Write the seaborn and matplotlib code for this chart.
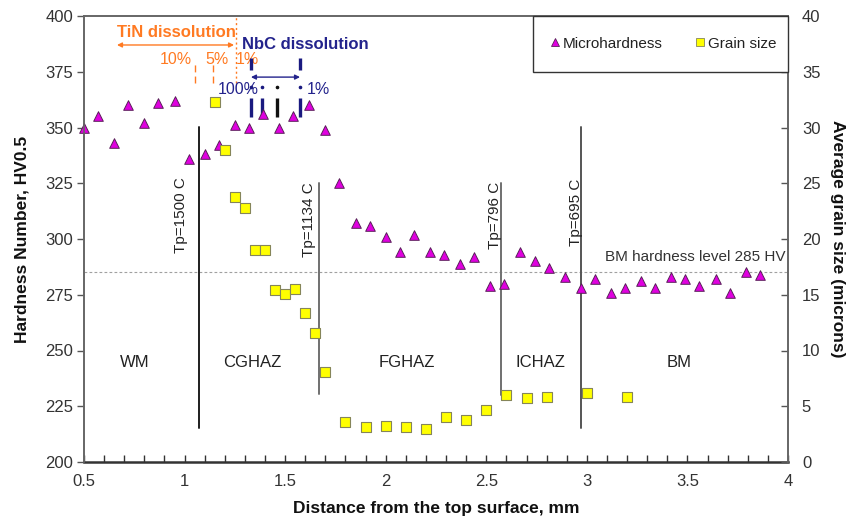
import matplotlib
matplotlib.use("Agg")
import matplotlib.pyplot as plt
import seaborn as sns
import pandas as pd
from matplotlib.patches import Rectangle
from matplotlib.lines import Line2D

# ---------------- data ----------------
hv_dist = [0.50, 0.57, 0.65, 0.72, 0.80, 0.87, 0.95, 1.02, 1.10, 1.17, 1.25, 1.32,
           1.39, 1.47, 1.54, 1.62, 1.70, 1.77, 1.85, 1.92, 2.00, 2.07, 2.14, 2.22,
           2.29, 2.37, 2.44, 2.52, 2.59, 2.67, 2.74, 2.81, 2.89, 2.97, 3.04, 3.12,
           3.19, 3.27, 3.34, 3.42, 3.49, 3.56, 3.64, 3.71, 3.79, 3.86]
hv_vals = [350, 355, 343, 360, 352, 361, 362, 336, 338, 342, 351, 350,
           356, 350, 355, 360, 349, 325, 307, 306, 301, 294, 302, 294,
           293, 289, 292, 279, 280, 294, 290, 287, 283, 278, 282, 276,
           278, 281, 278, 283, 282, 279, 282, 276, 285, 284]

gs_dist = [1.15, 1.20, 1.25, 1.30, 1.35, 1.40, 1.45, 1.50, 1.55, 1.60, 1.65, 1.70,
           1.80, 1.90, 2.00, 2.10, 2.20, 2.30, 2.40, 2.50, 2.60, 2.70, 2.80, 3.00, 3.20]
gs_vals = [32.3, 28.0, 23.8, 22.8, 19.0, 19.0, 15.4, 15.1, 15.5, 13.4, 11.6, 8.1,
           3.6, 3.1, 3.2, 3.1, 3.0, 4.0, 3.8, 4.7, 6.0, 5.7, 5.8, 6.2, 5.8]

x_ticks = [0.5, 1, 1.5, 2, 2.5, 3, 3.5, 4]
x_tick_labels = ["0.5", "1", "1.5", "2", "2.5", "3", "3.5", "4"]
hv_ticks = [200, 225, 250, 275, 300, 325, 350, 375, 400]
gs_ticks = [0, 5, 10, 15, 20, 25, 30, 35, 40]

bm_level = 285

# peak temperature boundaries: position, label, line top/bottom (HV), label centre
tp_pos = [1.072, 1.669, 2.574, 2.971]
tp_labels = ["Tp=1500 C", "Tp=1134 C", "Tp=796 C", "Tp=695 C"]
tp_top = [350.2, 325.1, 325.1, 350.2]
tp_bottom = [215.2, 230.5, 230.0, 215.2]
tp_colors = ["#1e1e1e", "#707070", "#707070", "#555555"]
tp_label_x = [0.982, 1.619, 2.544, 2.947]
tp_label_y = [310.8, 308.5, 310.8, 312.1]

zone_labels = ["WM", "CGHAZ", "FGHAZ", "ICHAZ", "BM"]
zone_x = [0.754, 1.335, 2.106, 2.768, 3.459]
zone_y = 244.5

# TiN / NbC dissolution annotations
tin_pct = ["10%", "5%", "1%"]
tin_pct_x = [0.955, 1.159, 1.311]
tin_marks = [1.052, 1.141]
tin_full = 1.256
nbc_marks = [1.330, 1.385, 1.460, 1.574]
nbc_mark_colors = ["#1a1a80", "#1a1a80", "#111111", "#1a1a80"]
nbc_has_top = [True, False, False, True]

ORANGE = "#FF7A22"
NAVY = "#23238C"

# ---------------- figure ----------------
sns.set_theme(style="white")
plt.rcParams["font.family"] = ["Liberation Sans", "DejaVu Sans"]

W, H = 854, 526
fig = plt.figure(figsize=(W / 100, H / 100), dpi=100)
L, R, T, B = 84, 788, 16, 462
ax = fig.add_axes([L / W, 1 - B / H, (R - L) / W, (B - T) / H])
ax2 = ax.twinx()

df_hv = pd.DataFrame({"dist": hv_dist, "hv": hv_vals})
df_gs = pd.DataFrame({"dist": gs_dist, "gs": gs_vals})

sns.scatterplot(data=df_hv, x="dist", y="hv", ax=ax, marker="^", s=48,
                color="#E000E0", edgecolor="#5a205a", linewidth=0.7,
                legend=False, zorder=6, clip_on=False)
sns.scatterplot(data=df_gs, x="dist", y="gs", ax=ax2, marker="s", s=42,
                color="#FFFF00", edgecolor="#85855a", linewidth=0.8,
                legend=False, zorder=6)

ax.set_xlim(0.5, 4)
ax.set_ylim(200, 400)
ax2.set_ylim(0, 40)
ax.set_xticks(x_ticks)
ax.set_xticklabels(x_tick_labels)
ax.set_xticks([v / 10 for v in range(5, 41)], minor=True)
ax.set_yticks(hv_ticks)
ax2.set_yticks(gs_ticks)

tick_col = "#333333"
ax.tick_params(axis="x", which="both", direction="in", length=5, width=1,
               color="#333333", labelsize=12, labelcolor=tick_col, pad=9,
               bottom=True)
ax.tick_params(axis="y", which="major", direction="out", length=5, width=1,
               color="#555555", labelsize=12, labelcolor=tick_col, pad=3, left=True)
ax2.tick_params(axis="y", which="major", direction="in", length=5, width=1,
                color="#555555", labelsize=12, labelcolor=tick_col, pad=10, right=True)

for a in (ax, ax2):
    for side, sp in a.spines.items():
        sp.set_visible(True)
        sp.set_color("#666666")
        sp.set_linewidth(1.2)
ax.spines["bottom"].set_color("#333333")
ax.spines["bottom"].set_linewidth(1.8)
ax2.spines["bottom"].set_visible(False)

ax.grid(False)
ax2.grid(False)

ax.set_xlabel("Distance from the top surface, mm", fontsize=12.5, fontweight="bold",
              color="#111111")
ax.set_ylabel("Hardness Number, HV0.5", fontsize=12.5, fontweight="bold", color="#111111")
ax2.set_ylabel("Average grain size (microns)", fontsize=12.5, fontweight="bold",
               color="#111111", rotation=270, va="center", ha="center")
ax.xaxis.set_label_coords(0.5, -0.088)
ax.yaxis.set_label_coords(-0.078, 0.5)
ax2.yaxis.set_label_coords(1.071, 0.5)

# BM hardness level
ax.axhline(bm_level, color="#a0a0a0", lw=0.8, ls=(0, (2.5, 2)), zorder=1)
ax.text(3.99, 292.0, "BM hardness level 285 HV", ha="right", va="center",
        fontsize=11, color="#333333")

# peak temperature lines and labels
for xp, lab, yt, yb, c, lx, ly in zip(tp_pos, tp_labels, tp_top, tp_bottom,
                                      tp_colors, tp_label_x, tp_label_y):
    ax.plot([xp, xp], [yb, yt], color=c, lw=1.4, zorder=3)
    ax.text(lx, ly, lab, rotation=90, ha="center", va="center", fontsize=11,
            color="#222222")

for lab, zx in zip(zone_labels, zone_x):
    ax.text(zx, zone_y, lab, ha="center", va="center", fontsize=12, color="#222222")

# TiN dissolution
ax.text(0.962, 392.4, "TiN dissolution", ha="center", va="center", fontsize=12,
        fontweight="bold", color=ORANGE)
ax.annotate("", xy=(0.664, 387.0), xytext=(1.246, 387.0),
            arrowprops=dict(arrowstyle="<|-|>", color=ORANGE, lw=1.0,
                            mutation_scale=7, shrinkA=0, shrinkB=0))
ax.plot([tin_full, tin_full], [370.0, 400], color=ORANGE, lw=1.0,
        ls=(0, (1.5, 2.0)), zorder=3)
for mx in tin_marks:
    ax.plot([mx, mx], [370.0, 379.4], color=ORANGE, lw=1.0, ls=(0, (5, 3)), zorder=3)
for lab, tx in zip(tin_pct, tin_pct_x):
    ax.text(tx, 380.5, lab, ha="center", va="center", fontsize=11.5, color=ORANGE)

# NbC dissolution
ax.text(1.599, 387.4, "NbC dissolution", ha="center", va="center", fontsize=12,
        fontweight="bold", color=NAVY)
ax.annotate("", xy=(1.330, 372.6), xytext=(1.574, 372.6),
            arrowprops=dict(arrowstyle="<|-|>", color=NAVY, lw=1.0,
                            mutation_scale=7, shrinkA=0, shrinkB=0))
for mx, c, top in zip(nbc_marks, nbc_mark_colors, nbc_has_top):
    ax.plot([mx, mx], [354.7, 363.2], color=c, lw=2.4, zorder=4,
            solid_capstyle="butt")
    ax.plot([mx], [368.2], marker="o", ms=1.6, color=c, zorder=4)
    if top:
        ax.plot([mx, mx], [375.8, 381.2], color=c, lw=2.4, zorder=4,
                solid_capstyle="butt")
ax.text(1.266, 367.0, "100%", ha="center", va="center", fontsize=11.5, color=NAVY)
ax.text(1.664, 367.0, "1%", ha="center", va="center", fontsize=11.5, color=NAVY)

# legend box
ax2.add_patch(Rectangle((0.638, 0.874), 0.362, 0.126, transform=ax2.transAxes,
                        facecolor="white", edgecolor="#333333", lw=1.0, zorder=8,
                        clip_on=False))
handles = [
    Line2D([], [], ls="none", marker="^", ms=6, color="#E000E0",
           markeredgecolor="#5a205a", markeredgewidth=0.6, label="Microhardness"),
    Line2D([], [], ls="none", marker="s", ms=6, color="#FFFF00",
           markeredgecolor="#85855a", markeredgewidth=0.6, label="Grain size"),
]
leg = ax2.legend(handles=handles, loc="center", bbox_to_anchor=(0.823, 0.938),
                 ncol=2, frameon=False, fontsize=11, handlelength=0.6,
                 handletextpad=0.2, columnspacing=2.2, borderpad=0)
leg.set_zorder(9)
for t in leg.get_texts():
    t.set_color("#222222")

fig.savefig("out.png", dpi=100)
